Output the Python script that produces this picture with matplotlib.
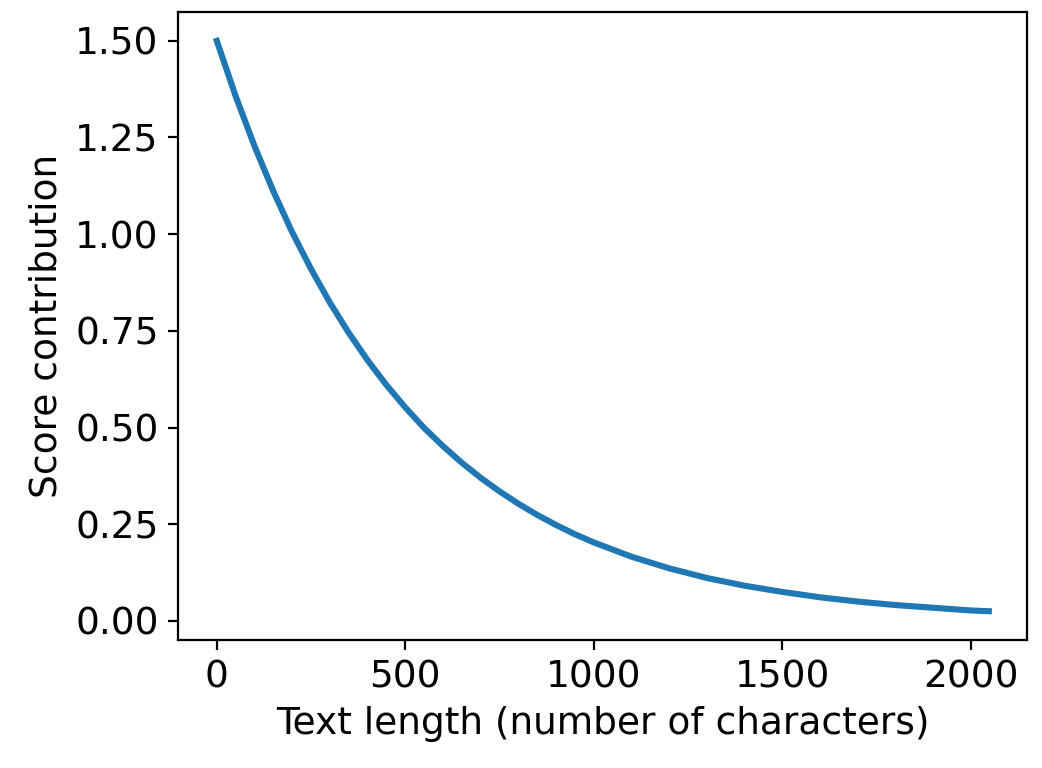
import matplotlib
matplotlib.use("Agg")
import matplotlib.pyplot as plt

# values
text_length = [0, 50, 100, 150, 200, 250, 300, 350, 400, 450, 500, 550, 600, 650, 700,
               750, 800, 850, 900, 950, 1000, 1100, 1200, 1300, 1400, 1500, 1600, 1700,
               1800, 1900, 2000, 2048]
score = [1.500, 1.357, 1.228, 1.111, 1.005, 0.910, 0.823, 0.745, 0.674, 0.610, 0.552,
         0.499, 0.452, 0.409, 0.370, 0.335, 0.303, 0.274, 0.248, 0.224, 0.203, 0.166,
         0.136, 0.111, 0.091, 0.075, 0.061, 0.050, 0.041, 0.034, 0.027, 0.025]

plt.rcParams['font.size'] = 13.5
fig = plt.figure(figsize=(5.21, 3.84), dpi=200)
ax = fig.add_axes([0.171, 0.167, 0.815, 0.817])
ax.plot(text_length, score, color='#1f77b4', lw=2.2)
ax.set_yticks([0, 0.25, 0.5, 0.75, 1.0, 1.25, 1.5])
ax.set_xlabel('Text length (number of characters)')
ax.set_ylabel('Score contribution')
fig.savefig('out.png')
